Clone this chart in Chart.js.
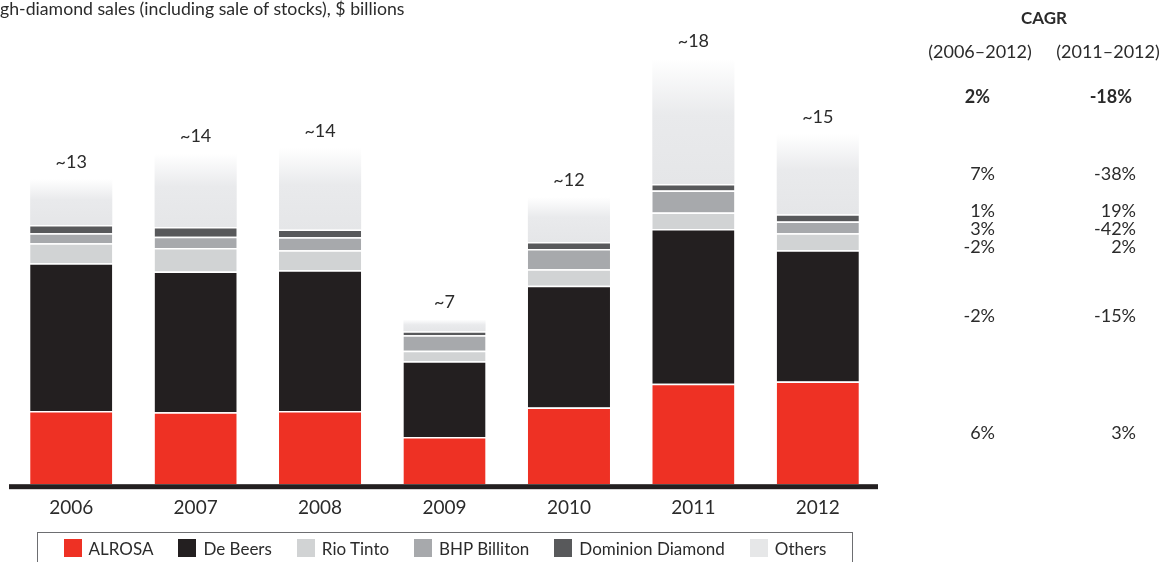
<!DOCTYPE html>
<html>
<head>
<meta charset="utf-8">
<script src="https://cdn.jsdelivr.net/npm/chart.js@4.4.1/dist/chart.umd.min.js"></script>
<style>
  html, body { margin: 0; padding: 0; background: #fff; }
  body { width: 1174px; height: 562px; overflow: hidden; position: relative; font-family: Lato, "Noto Sans", sans-serif; color: #2b2b2b; }
  #wrap { position: absolute; left: 0; top: 0; width: 1174px; height: 562px; }
  #title { position: absolute; top: -1px; left: 0; font-size: 17.7px; line-height: 19px; white-space: nowrap; }
  #legend { position: absolute; left: 37px; top: 532px; width: 816px; height: 40px; box-sizing: border-box;
            border: 1px solid #6d6e71; display: flex; justify-content: center; padding-top: 6px; font-size: 17px; }
  .item { display: flex; align-items: center; height: 18px; margin: 0 12.5px; }
  .sw { width: 18px; height: 18px; margin-right: 7px; }
</style>
</head>
<body>
<div id="wrap"><canvas id="chart"></canvas></div>
<div id="title">Rough-diamond sales (including sale of stocks), $ billions</div>
<div id="legend"></div>
<script>
// data, $ billions
const years = ['2006', '2007', '2008', '2009', '2010', '2011', '2012'];
const totalLabels = ['~13', '~14', '~14', '~7', '~12', '~18', '~15'];
const alrosa   = [3.1, 3.05, 3.1, 2.0, 3.25, 4.25, 4.35];
const deBeers  = [6.25, 5.95, 5.95, 3.2, 5.15, 6.55, 5.55];
const rioTinto = [0.85, 1.0, 0.85, 0.45, 0.7, 0.7, 0.72];
const bhp      = [0.42, 0.47, 0.55, 0.65, 0.85, 0.93, 0.5];
const dominion = [0.35, 0.42, 0.33, 0.17, 0.3, 0.28, 0.3];
const others   = [1.95, 3.1, 3.45, 0.5, 1.9, 5.3, 3.4];

const seriesNames  = ['ALROSA', 'De Beers', 'Rio Tinto', 'BHP Billiton', 'Dominion Diamond', 'Others'];
const seriesColors = ['#ee3124', '#231f20', '#d1d3d4', '#a7a9ac', '#58595b', '#e6e7e8'];
const seriesData   = [alrosa, deBeers, rioTinto, bhp, dominion, others];

// CAGR columns, same order as the series
const cagrHeads  = ['(2006\u20132012)', '(2011\u20132012)'];
const cagrTotal  = ['2%', '-18%'];
const cagr0612   = ['6%', '-2%', '-2%', '3%', '1%', '7%'];
const cagr1112   = ['3%', '-15%', '2%', '-42%', '19%', '-38%'];

const FONT = 'Lato, "Noto Sans", sans-serif';
const TEXT = '#2b2b2b';

// cut the title so it starts mid-word like the picture
(function () {
  const t = document.getElementById('title');
  const c = document.createElement('canvas').getContext('2d');
  c.font = '17.7px ' + FONT;
  t.style.left = (-c.measureText('Rou').width) + 'px';
})();

// legend
const legend = document.getElementById('legend');
seriesNames.forEach((name, i) => {
  const it = document.createElement('div');
  it.className = 'item';
  it.innerHTML = '<div class="sw" style="background:' + seriesColors[i] + '"></div><span>' + name + '</span>';
  legend.appendChild(it);
});

function segBase(s, i) {
  let b = 0;
  for (let k = 0; k < s; k++) b += seriesData[k][i];
  return b;
}

// the "Others" segment fades to white towards its top
function othersFill(ctx) {
  const chart = ctx.chart;
  if (!chart.chartArea || ctx.type !== 'data' || !chart.scales.y) return seriesColors[5];
  const y = chart.scales.y;
  const i = ctx.dataIndex;
  const b = segBase(5, i);
  const y0 = y.getPixelForValue(b);
  const y1 = y.getPixelForValue(b + others[i]);
  const g = chart.ctx.createLinearGradient(0, y0, 0, y1);
  g.addColorStop(0, '#e5e6e8');
  g.addColorStop(0.55, '#e9eaec');
  g.addColorStop(1, '#ffffff');
  return g;
}

const baseline = {
  id: 'baseline',
  afterDatasetsDraw(chart) {
    const { ctx, chartArea } = chart;
    ctx.save();
    ctx.fillStyle = '#231f20';
    ctx.fillRect(chartArea.left, chartArea.bottom, chartArea.right - chartArea.left - 2, 5);
    ctx.restore();
  }
};

const totals = {
  id: 'totals',
  afterDatasetsDraw(chart) {
    const { ctx } = chart;
    const y = chart.scales.y;
    const meta = chart.getDatasetMeta(5);
    ctx.save();
    ctx.font = '18px ' + FONT;
    ctx.fillStyle = TEXT;
    ctx.textAlign = 'center';
    ctx.textBaseline = 'middle';
    meta.data.forEach((bar, i) => {
      const top = y.getPixelForValue(segBase(6, i));
      ctx.fillText(totalLabels[i], bar.x, top - 17);
    });
    ctx.restore();
  }
};

const cagr = {
  id: 'cagr',
  afterDraw(chart) {
    const { ctx } = chart;
    const y = chart.scales.y;
    const last = years.length - 1;
    const col1 = 995, col2 = 1136;
    ctx.save();
    ctx.fillStyle = TEXT;
    ctx.textBaseline = 'middle';
    ctx.textAlign = 'center';
    ctx.font = 'bold 17px ' + FONT;
    ctx.fillText('CAGR', 1044, 19);
    ctx.font = '18px ' + FONT;
    ctx.fillText(cagrHeads[0], 980, 52);
    ctx.fillText(cagrHeads[1], 1108, 52);
    ctx.textAlign = 'right';
    ctx.font = 'bold 18px ' + FONT;
    ctx.fillText(cagrTotal[0], col1 - 5, 97);
    ctx.fillText(cagrTotal[1], col2 - 4, 97);

    // one row per series, at the middle of its 2012 segment, spread where they crowd
    const rows = seriesNames.map((n, s) => {
      const b = segBase(s, last);
      return { s, y: y.getPixelForValue(b + seriesData[s][last] / 2) };
    }).sort((a, b) => a.y - b.y);
    const gap = 18;
    let groups = [];
    rows.forEach(r => {
      const g = groups[groups.length - 1];
      if (g && r.y - g[g.length - 1].y < gap) g.push(r); else groups.push([r]);
    });
    ctx.font = '18px ' + FONT;
    groups.forEach(g => {
      const mean = g.reduce((a, r) => a + r.y, 0) / g.length;
      g.forEach((r, k) => {
        const yy = mean + (k - (g.length - 1) / 2) * gap;
        ctx.fillText(cagr0612[r.s], col1, yy);
        ctx.fillText(cagr1112[r.s], col2, yy);
      });
    });
    ctx.restore();
  }
};

new Chart(document.getElementById('chart'), {
  type: 'bar',
  data: {
    labels: years,
    datasets: seriesNames.map((name, s) => ({
      label: name,
      data: seriesData[s],
      backgroundColor: s === 5 ? othersFill : seriesColors[s],
      borderColor: '#ffffff',
      borderWidth: { top: s === 5 ? 0 : 1.5, left: 0, right: 0, bottom: 0 },
      borderSkipped: false,
      barPercentage: 0.66,
      categoryPercentage: 1
    }))
  },
  options: {
    responsive: true,
    maintainAspectRatio: false,
    animation: false,
    layout: { padding: { left: 9, right: 294, top: 40, bottom: 39 } },
    plugins: { legend: { display: false }, tooltip: { enabled: false } },
    scales: {
      x: {
        stacked: true,
        grid: { display: false },
        border: { display: false },
        ticks: { color: TEXT, font: { family: FONT, size: 19 }, padding: 4 }
      },
      y: { stacked: true, display: false, min: 0, max: 18.8 }
    }
  },
  plugins: [baseline, totals, cagr]
});
</script>
</body>
</html>
